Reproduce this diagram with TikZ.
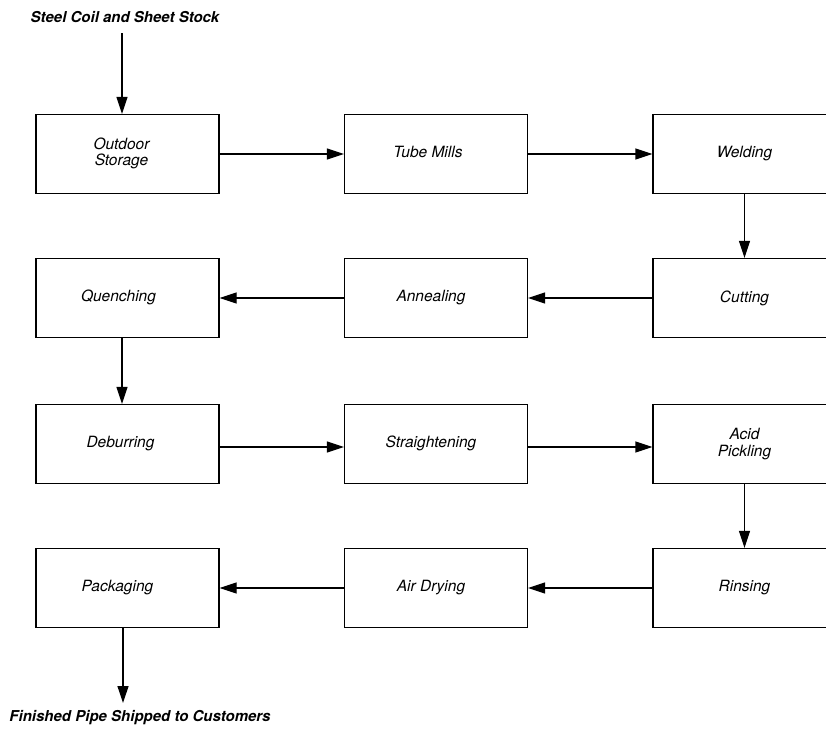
\documentclass[tikz,border=0pt]{standalone}
\usepackage{fontspec}
\setmainfont{TeX Gyre Heros}
\usetikzlibrary{arrows.meta}
\newcommand\shl[2]{\kern-#1pt\begin{tabular}{@{}c@{}}#2\end{tabular}}
\tikzset{
  box/.style={draw, line width=1.2pt, minimum width=183pt, minimum height=79pt, inner sep=0pt, align=center,
    font=\fontsize{15.5}{16.5}\selectfont\itshape},
  lbl/.style={font=\fontsize{15}{17}\selectfont\bfseries\itshape, inner sep=0pt},
  arr/.style={line width=1.2pt, -{Triangle[length=17pt,width=11pt]}}
}
\begin{document}
\begin{tikzpicture}[x=1pt,y=1pt]
\useasboundingbox (0,0) rectangle (826,-732);
\clip (0,0) rectangle (826,-732);
\node[lbl] (src) at (125,-17) {Steel Coil and Sheet Stock};
\node[lbl] (dst) at (140,-718) {Finished Pipe Shipped to Customers};
\coordinate (srcend) at (122,-33);
\coordinate (dstend) at (123,-703);
% row 1
\node[box] (os) at (127.5,-154) {\shl{12}{Outdoor\\Storage}};
\node[box] (tm) at (436,-154) {\shl{16}{Tube Mills}};
\node[box] (we) at (744.5,-154) {Welding};
% row 2
\node[box] (qu) at (127.5,-298) {\shl{18}{Quenching}};
\node[box] (an) at (436,-298) {\shl{10}{Annealing}};
\node[box] (cu) at (744.5,-298) {Cutting};
% row 3
\node[box] (de) at (127.5,-444) {\shl{14}{Deburring}};
\node[box] (st) at (436,-444) {\shl{10}{Straightening}};
\node[box] (ap) at (744.5,-444) {Acid\\Pickling};
% row 4
\node[box] (pa) at (127.5,-588) {\shl{20}{Packaging}};
\node[box] (ad) at (436,-588) {\shl{10}{Air Drying}};
\node[box] (ri) at (744.5,-588) {Rinsing};
% connectors
\draw[arr] (srcend) -- (srcend |- os.north);
\draw[arr] (os) -- (tm);
\draw[arr] (tm) -- (we);
\draw[arr] (we) -- (cu);
\draw[arr] (cu) -- (an);
\draw[arr] (an) -- (qu);
\draw[arr] ([xshift=-5.5pt]qu.south) -- ([xshift=-5.5pt]de.north);
\draw[arr] ([yshift=-3pt]de.east) -- ([yshift=-3pt]st.west);
\draw[arr] ([yshift=-3pt]st.east) -- ([yshift=-3pt]ap.west);
\draw[arr] (ap) -- (ri);
\draw[arr] (ri) -- (ad);
\draw[arr] (ad) -- (pa);
\draw[arr] (dstend |- pa.south) -- (dstend);
\end{tikzpicture}
\end{document}
